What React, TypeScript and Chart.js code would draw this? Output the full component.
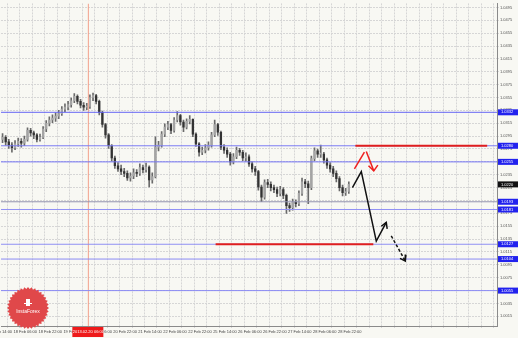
import { useEffect, useRef } from "react";
import { Chart, registerables } from "chart.js";
Chart.register(...registerables);

// x axis: hours of trading time from left edge; labels every 16 h
const leadingLabel = "15 Feb 14:00";
const xLabels = ["18 Feb 06:00", "18 Feb 22:00", "19 Feb 14:00", "20 Feb 06:00", "20 Feb 22:00", "21 Feb 14:00", "22 Feb 06:00", "22 Feb 22:00", "25 Feb 14:00", "26 Feb 06:00", "26 Feb 22:00", "27 Feb 14:00", "28 Feb 06:00", "28 Feb 22:00"];
const yTicks = [1.0495, 1.0475, 1.0455, 1.0435, 1.0415, 1.0395, 1.0375, 1.0355, 1.0335, 1.0315, 1.0295, 1.0275, 1.0255, 1.0235, 1.0215, 1.0195, 1.0175, 1.0155, 1.0135, 1.0115, 1.0095, 1.0075, 1.0055, 1.0035, 1.0015];

const opens = [1.0290, 1.0293, 1.0286, 1.0281, 1.0277, 1.0283, 1.0287, 1.0284, 1.0290, 1.0304, 1.0300, 1.0297, 1.0290, 1.0293, 1.0306, 1.0315, 1.0320, 1.0323, 1.0326, 1.0330, 1.0337, 1.0340, 1.0344, 1.0350, 1.0357, 1.0349, 1.0343, 1.0340, 1.0341, 1.0355, 1.0358, 1.0349, 1.0332, 1.0313, 1.0297, 1.0280, 1.0261, 1.0249, 1.0244, 1.0240, 1.0237, 1.0230, 1.0233, 1.0238, 1.0237, 1.0246, 1.0243, 1.0247, 1.0227, 1.0232, 1.0278, 1.0281, 1.0298, 1.0309, 1.0313, 1.0304, 1.0320, 1.0327, 1.0317, 1.0309, 1.0318, 1.0321, 1.0298, 1.0283, 1.0270, 1.0273, 1.0277, 1.0281, 1.0297, 1.0313, 1.0301, 1.0278, 1.0273, 1.0267, 1.0255, 1.0263, 1.0273, 1.0270, 1.0261, 1.0263, 1.0252, 1.0244, 1.0240, 1.0216, 1.0200, 1.0223, 1.0220, 1.0215, 1.0212, 1.0206, 1.0212, 1.0203, 1.0187, 1.0184, 1.0192, 1.0190, 1.0206, 1.0224, 1.0221, 1.0215, 1.0260, 1.0272, 1.0267, 1.0267, 1.0258, 1.0250, 1.0244, 1.0237, 1.0229, 1.0215, 1.0207, 1.0209];
const closes = [1.0293, 1.0286, 1.0281, 1.0277, 1.0283, 1.0287, 1.0284, 1.0290, 1.0304, 1.0300, 1.0297, 1.0290, 1.0293, 1.0306, 1.0315, 1.0320, 1.0323, 1.0326, 1.0330, 1.0337, 1.0340, 1.0344, 1.0350, 1.0357, 1.0349, 1.0343, 1.0340, 1.0341, 1.0355, 1.0358, 1.0349, 1.0332, 1.0313, 1.0297, 1.0280, 1.0261, 1.0249, 1.0244, 1.0240, 1.0237, 1.0230, 1.0233, 1.0238, 1.0237, 1.0246, 1.0243, 1.0247, 1.0227, 1.0232, 1.0278, 1.0281, 1.0298, 1.0309, 1.0313, 1.0304, 1.0320, 1.0327, 1.0317, 1.0309, 1.0318, 1.0321, 1.0298, 1.0283, 1.0270, 1.0273, 1.0277, 1.0281, 1.0297, 1.0313, 1.0301, 1.0278, 1.0273, 1.0267, 1.0255, 1.0263, 1.0273, 1.0270, 1.0261, 1.0263, 1.0252, 1.0244, 1.0240, 1.0216, 1.0200, 1.0223, 1.0220, 1.0215, 1.0212, 1.0206, 1.0212, 1.0203, 1.0187, 1.0184, 1.0192, 1.0190, 1.0206, 1.0224, 1.0221, 1.0215, 1.0260, 1.0272, 1.0267, 1.0267, 1.0258, 1.0250, 1.0244, 1.0237, 1.0229, 1.0215, 1.0207, 1.0209, 1.0220];
const highs = [1.0299, 1.0296, 1.0290, 1.0285, 1.0288, 1.0292, 1.0291, 1.0295, 1.0308, 1.0307, 1.0303, 1.0299, 1.0298, 1.0310, 1.0319, 1.0325, 1.0328, 1.0331, 1.0335, 1.0341, 1.0345, 1.0349, 1.0354, 1.0361, 1.0359, 1.0352, 1.0347, 1.0346, 1.0359, 1.0362, 1.0360, 1.0351, 1.0334, 1.0315, 1.0299, 1.0282, 1.0264, 1.0254, 1.0250, 1.0245, 1.0241, 1.0238, 1.0244, 1.0243, 1.0252, 1.0250, 1.0253, 1.0249, 1.0238, 1.0294, 1.0287, 1.0302, 1.0314, 1.0318, 1.0315, 1.0324, 1.0333, 1.0329, 1.0320, 1.0322, 1.0327, 1.0322, 1.0300, 1.0285, 1.0278, 1.0282, 1.0286, 1.0301, 1.0320, 1.0315, 1.0303, 1.0282, 1.0277, 1.0270, 1.0268, 1.0278, 1.0276, 1.0273, 1.0269, 1.0266, 1.0255, 1.0248, 1.0242, 1.0219, 1.0227, 1.0228, 1.0224, 1.0219, 1.0216, 1.0217, 1.0215, 1.0205, 1.0191, 1.0197, 1.0196, 1.0210, 1.0230, 1.0228, 1.0225, 1.0264, 1.0277, 1.0275, 1.0281, 1.0270, 1.0261, 1.0254, 1.0248, 1.0241, 1.0232, 1.0219, 1.0214, 1.0224];
const lows = [1.0285, 1.0281, 1.0276, 1.0270, 1.0274, 1.0279, 1.0278, 1.0280, 1.0287, 1.0295, 1.0291, 1.0286, 1.0287, 1.0291, 1.0302, 1.0311, 1.0316, 1.0318, 1.0322, 1.0327, 1.0333, 1.0336, 1.0340, 1.0347, 1.0345, 1.0339, 1.0335, 1.0336, 1.0338, 1.0350, 1.0345, 1.0328, 1.0309, 1.0292, 1.0276, 1.0256, 1.0245, 1.0240, 1.0235, 1.0232, 1.0226, 1.0225, 1.0229, 1.0232, 1.0234, 1.0238, 1.0239, 1.0216, 1.0222, 1.0230, 1.0272, 1.0278, 1.0294, 1.0305, 1.0299, 1.0301, 1.0317, 1.0312, 1.0302, 1.0306, 1.0314, 1.0294, 1.0279, 1.0264, 1.0266, 1.0269, 1.0273, 1.0278, 1.0294, 1.0296, 1.0274, 1.0268, 1.0262, 1.0250, 1.0252, 1.0260, 1.0265, 1.0257, 1.0256, 1.0248, 1.0239, 1.0234, 1.0211, 1.0193, 1.0197, 1.0215, 1.0210, 1.0207, 1.0201, 1.0202, 1.0198, 1.0175, 1.0178, 1.0180, 1.0185, 1.0187, 1.0203, 1.0215, 1.0190, 1.0212, 1.0257, 1.0262, 1.0262, 1.0253, 1.0245, 1.0239, 1.0232, 1.0224, 1.0210, 1.0202, 1.0203, 1.0206];

const blueLevels = [1.0332, 1.0280, 1.0255, 1.0193, 1.0181, 1.0127, 1.0104, 1.0055];
const blueColors = ["#6666f4", "#7c7cf4", "#7474f4", "#9494b0", "#9090f4", "#9090f4", "#8a8af4", "#8a8af4"];
const redLevels = [
  { from: 227.2, to: 311.7, price: 1.028 },
  { from: 137.6, to: 238.7, price: 1.0127 },
];
const markerTime = 56;
const markerLabel = "2013.02.20 06:00";
const currentPrice = 1.022;

const blackPath = [[225.3, 1.0215], [231.0, 1.024], [240.6, 1.0132], [247.0, 1.0161]];
const blackHead = [[243.8, 1.0155], [247.0, 1.0161], [247.6, 1.0151]];
const dashedPath = [[250.2, 1.014], [259.2, 1.0101]];
const dashedHead = [[259.6, 1.0111], [259.2, 1.0101], [255.8, 1.0105]];
const redUp = [[226.6, 1.0244], [233.0, 1.0270]];
const redDown = [[234.2, 1.0271], [239.0, 1.0241]];
const redHead = [[235.6, 1.0249], [239.0, 1.0241], [241.6, 1.025]];

const X_MAX = 318;
const toXY = (pts: number[][]) => pts.map(([x, y]) => ({ x, y }));

export default function App() {
  const ref = useRef<HTMLCanvasElement>(null);
  useEffect(() => {
    document.body.style.margin = "0";
    const canvas = ref.current!;
    const hours = closes.map((_, i) => 1 + 2 * i);
    const lineDs = (data: any[], color: string, width: number, extra: any = {}) => ({
      type: "line" as const,
      data,
      borderColor: color,
      borderWidth: width,
      pointRadius: 0,
      fill: false,
      order: 0,
      ...extra,
    });

    const decor = {
      id: "decor",
      beforeDraw(chart: any) {
        const { ctx, width, height } = chart;
        ctx.save();
        ctx.fillStyle = "#f8f8f3";
        ctx.fillRect(0, 0, width, height);
        ctx.restore();
      },
      afterDraw(chart: any) {
        const { ctx, chartArea, scales } = chart;
        const ys = scales.y;
        const xs = scales.x;
        ctx.save();
        ctx.font = '4px "Liberation Sans"';
        ctx.textBaseline = "middle";
        ctx.textAlign = "left";
        blueLevels.forEach((v) => {
          const py = ys.getPixelForValue(v);
          ctx.fillStyle = "#2222ee";
          ctx.fillRect(chartArea.right + 1, py - 3, 20, 6);
          ctx.fillStyle = "#ffffff";
          ctx.fillText(v.toFixed(4), chartArea.right + 4, py);
        });
        const cp = ys.getPixelForValue(currentPrice);
        ctx.fillStyle = "#111111";
        ctx.fillRect(chartArea.right + 1, cp - 3, 20, 6);
        ctx.fillStyle = "#ffffff";
        ctx.fillText(currentPrice.toFixed(4), chartArea.right + 4, cp);

        // label of the tick just left of the visible range
        ctx.fillStyle = "#444";
        ctx.textAlign = "left";
        ctx.textBaseline = "top";
        ctx.fillText(leadingLabel, xs.getPixelForValue(-8), chartArea.bottom + 4);

        const mx = xs.getPixelForValue(markerTime);
        ctx.textBaseline = "middle";
        ctx.fillStyle = "#ee1a1a";
        ctx.fillRect(mx - 16, chartArea.bottom + 1, 31, 10);
        ctx.fillStyle = "#ffffff";
        ctx.textAlign = "center";
        ctx.fillText(markerLabel, mx, chartArea.bottom + 6);

        // logo
        const cx = 28, cy = 308, r = 21;
        ctx.beginPath();
        const teeth = 36;
        for (let k = 0; k <= teeth * 2; k++) {
          const a = (k / (teeth * 2)) * Math.PI * 2;
          const rr = k % 2 === 0 ? r : r - 2;
          const px = cx + rr * Math.cos(a);
          const py = cy + rr * Math.sin(a);
          if (k === 0) ctx.moveTo(px, py);
          else ctx.lineTo(px, py);
        }
        ctx.closePath();
        ctx.fillStyle = "#e0484a";
        ctx.fill();
        ctx.fillStyle = "#ffffff";
        ctx.fillRect(cx - 2, cy - 9, 4, 7);
        ctx.fillRect(cx - 4, cy - 5, 8, 1);
        ctx.font = '5px "Liberation Sans"';
        ctx.textAlign = "center";
        ctx.fillText("InstaForex", cx, cy + 4);
        ctx.restore();
      },
    };

    const chart = new Chart(canvas, {
      type: "bar",
      data: {
        datasets: [
          lineDs(toXY(blackPath), "#111111", 1.5),
          lineDs(toXY(blackHead), "#111111", 1.5),
          lineDs(toXY(dashedPath), "#111111", 1.5, { borderDash: [3, 2] }),
          lineDs(toXY(dashedHead), "#111111", 1.5),
          lineDs(toXY(redUp), "#ee2020", 1.5),
          lineDs(toXY(redDown), "#ee2020", 1.5),
          lineDs(toXY(redHead), "#ee2020", 1.5),
          ...redLevels.map((s) =>
            lineDs([{ x: s.from, y: s.price }, { x: s.to, y: s.price }], "#e01e1e", 2)
          ),
          ...blueLevels.map((v, i) =>
            lineDs([{ x: 0, y: v }, { x: X_MAX, y: v }], blueColors[i], 1)
          ),
          lineDs([{ x: markerTime, y: 1.0 }, { x: markerTime, y: 1.0501 }], "#f2a08c", 1),
          {
            type: "bar" as const,
            data: hours.map((h, i) => ({ x: h, y: [opens[i], closes[i]] })),
            backgroundColor: closes.map((c, i) => (c >= opens[i] ? "#a4a4a4" : "#333333")),
            barThickness: 1.6,
            minBarLength: 1,
            grouped: false,
            order: 1,
          } as any,
          {
            type: "bar" as const,
            data: hours.map((h, i) => ({ x: h, y: [lows[i], highs[i]] })),
            backgroundColor: "#6a6a6a",
            barThickness: 1,
            grouped: false,
            order: 2,
          } as any,
        ],
      },
      options: {
        animation: false,
        responsive: false,
        maintainAspectRatio: false,
        layout: { padding: 0 },
        plugins: { legend: { display: false }, tooltip: { enabled: false } },
        scales: {
          x: {
            type: "linear",
            min: 0,
            max: X_MAX,
            offset: false,
            afterBuildTicks: (s: any) => {
              const t = [];
              for (let k = 0; k * 8 <= X_MAX; k++) t.push({ value: k * 8 });
              s.ticks = t;
            },
            afterFit: (s: any) => {
              s.height = 12;
            },
            grid: { color: "#d6d6d6", tickLength: 2, lineWidth: 1 },
            border: { color: "#8a8a8a", dash: [2, 1] },
            ticks: {
              autoSkip: false,
              maxRotation: 0,
              minRotation: 0,
              align: "start",
              padding: 1,
              color: "#444",
              font: { size: 4, family: "Liberation Sans" },
              callback: (v: any) => {
                const k = Math.round(Number(v) / 8);
                return k % 2 === 1 ? xLabels[(k - 1) / 2] ?? "" : "";
              },
            },
          } as any,
          y: {
            type: "linear",
            position: "right",
            min: 1.0,
            max: 1.05012,
            afterBuildTicks: (s: any) => {
              s.ticks = yTicks.map((v) => ({ value: v }));
            },
            afterFit: (s: any) => {
              s.width = 21;
            },
            grid: { color: "#d6d6d6", tickLength: 2 },
            border: { color: "#8a8a8a", dash: [2, 1] },
            ticks: {
              padding: 1,
              color: "#555",
              font: { size: 4, family: "Liberation Sans" },
              callback: (v: any) => Number(v).toFixed(4),
            },
          } as any,
        },
      },
      plugins: [decor],
    });
    return () => chart.destroy();
  }, []);
  return <canvas ref={ref} width={518} height={338} style={{ display: "block" }} />;
}
